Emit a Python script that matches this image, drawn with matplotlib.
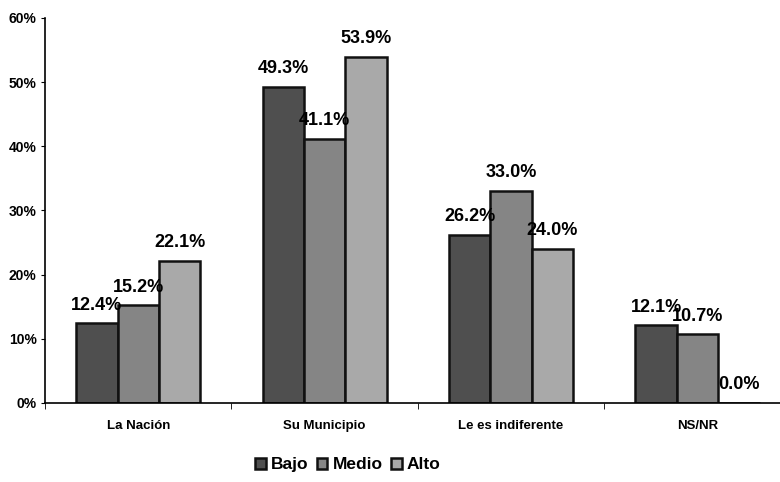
import numpy as np
import matplotlib
matplotlib.use("Agg")
import matplotlib.pyplot as plt

categories = ["La Nación", "Su Municipio", "Le es indiferente", "NS/NR"]
series = ["Bajo", "Medio", "Alto"]
bajo = [12.4, 49.3, 26.2, 12.1]
medio = [15.2, 41.1, 33.0, 10.7]
alto = [22.1, 53.9, 24.0, 0.0]

colors = ["#4f4f4f", "#858585", "#a9a9a9"]

plt.rcParams.update({"font.family": "Liberation Sans", "font.weight": "bold"})

fig = plt.figure(figsize=(7.8, 4.82), dpi=100)
# the plot area runs past the right edge, as in the source image
ax = fig.add_axes([0.0577, 0.164, 0.956, 0.799])

x = np.arange(len(categories))
w = 0.222
for i, (name, vals) in enumerate(zip(series, [bajo, medio, alto])):
    pos = x + (i - 1) * w
    ax.bar(pos, vals, width=w, color=colors[i], edgecolor="#111111", linewidth=1.8, label=name)
    for p, v in zip(pos, vals):
        ax.annotate(f"{v:.1f}%", (p, v), xytext=(0, 7), textcoords="offset points",
                    ha="center", va="bottom", fontsize=13, fontweight="bold")

ax.set_xlim(-0.5, len(categories) - 0.5)
ax.set_ylim(0, 60)
ax.set_yticks(range(0, 61, 10))
ax.set_yticklabels([f"{t}%" for t in range(0, 61, 10)], fontsize=10)
ax.set_xticks(x)
ax.set_xticklabels(categories, fontsize=9.5)
ax.tick_params(axis="x", length=0, pad=12)
ax.set_xticks(np.arange(-0.5, len(categories), 1), minor=True)
ax.tick_params(axis="x", which="minor", length=4, direction="out")
ax.tick_params(axis="y", length=3, pad=3)
ax.spines[["top", "right"]].set_visible(False)
ax.spines[["left", "bottom"]].set_linewidth(1.2)

fig.legend(loc="center", bbox_to_anchor=(0.446, 0.036), ncol=3, frameon=False,
           fontsize=12.5, handlelength=0.6, handleheight=0.6, handletextpad=0.3, columnspacing=0.5)

fig.savefig("out.png", dpi=100)
